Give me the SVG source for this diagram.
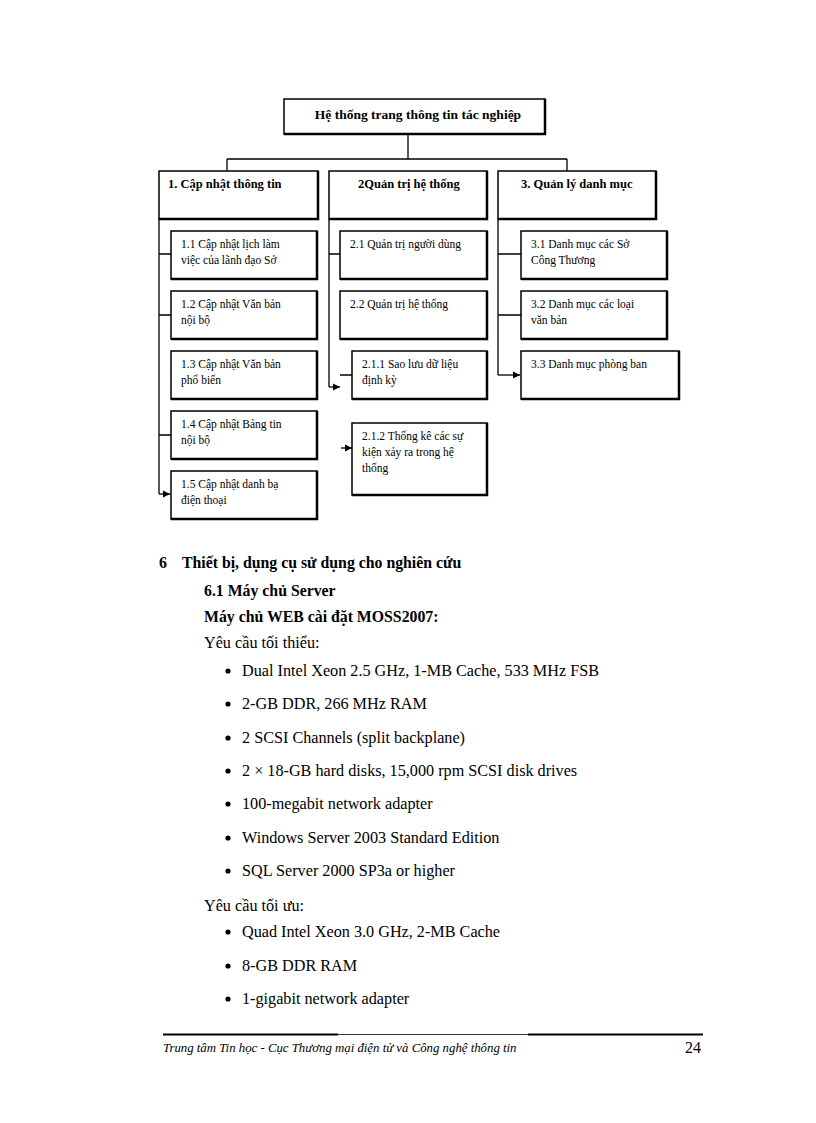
<svg xmlns="http://www.w3.org/2000/svg" width="816" height="1123" viewBox="0 0 816 1123">
<style>
.box{fill:#fff;stroke:#000;stroke-width:1.5}
.sh{fill:none;stroke:#000;stroke-width:2.5}
.ln{fill:none;stroke:#000;stroke-width:1.3}
.t{font-family:"Liberation Serif","Times New Roman",serif;font-size:11.5px;fill:#000}
.tb{font-family:"Liberation Serif","Times New Roman",serif;font-size:12.5px;font-weight:bold;fill:#000}
.body{font-family:"Liberation Serif","Times New Roman",serif;font-size:16.2px;fill:#000}
.bold{font-weight:bold;font-size:15.8px}
</style>
<defs>
<marker id="ah" markerWidth="8" markerHeight="8" refX="7" refY="4" orient="auto" markerUnits="userSpaceOnUse">
<path d="M0,0.5 L7,4 L0,7.5 z" fill="#000"/>
</marker>
</defs>
<rect width="816" height="1123" fill="#fff"/>

<g id="connectors">
<path class="ln" d="M408,135 V159 M227,159 H567 M227,159 V171 M567,159 V171"/>
<path class="ln" d="M159,219 V494 M159,254 H171 M159,315 H171 M159,435 H171"/>
<path class="ln" d="M159,494 H170" marker-end="url(#ah)"/>
<path class="ln" d="M329,219 V387 M329,254 H340 M340,375 H352"/>
<path class="ln" d="M329,387 H340" marker-end="url(#ah)"/>
<path class="ln" d="M341,448 H352" marker-end="url(#ah)"/>
<path class="ln" d="M498,219 V375 M498,254 H521 M498,315 H521"/>
<path class="ln" d="M498,375 H520" marker-end="url(#ah)"/>
</g>

<g id="root">
<rect class="box" x="284" y="99" width="261" height="35"/>
<path class="sh" d="M545,99 V134 H284"/>
<text class="tb" x="418" y="119" text-anchor="middle" style="font-size:13.5px">Hệ thống trang thông tin tác nghiệp</text>
</g>

<g id="n1">
<rect class="box" x="159" y="171" width="159" height="48"/>
<path class="sh" d="M318,171 V219 H159"/>
<text class="tb" x="168" y="188">1. Cập nhật thông tin</text>
</g>
<g id="n2">
<rect class="box" x="329" y="171" width="158" height="48"/>
<path class="sh" d="M487,171 V219 H329"/>
<text class="tb" x="358" y="188">2Quản trị hệ thống</text>
</g>
<g id="n3">
<rect class="box" x="498" y="171" width="158" height="48"/>
<path class="sh" d="M656,171 V219 H498"/>
<text class="tb" x="521" y="188">3. Quản lý danh mục</text>
</g>

<g id="n1_1">
<rect class="box" x="171" y="231" width="146" height="48"/>
<path class="sh" d="M317,231 V279 H171"/>
<text class="t" x="181" y="248">1.1 Cập nhật lịch làm</text>
<text class="t" x="181" y="264">việc của lãnh đạo Sở</text>
</g>
<g id="n1_2">
<rect class="box" x="171" y="291" width="146" height="48"/>
<path class="sh" d="M317,291 V339 H171"/>
<text class="t" x="181" y="308">1.2 Cập nhật Văn bản</text>
<text class="t" x="181" y="324">nội bộ</text>
</g>
<g id="n1_3">
<rect class="box" x="171" y="351" width="146" height="48"/>
<path class="sh" d="M317,351 V399 H171"/>
<text class="t" x="181" y="368">1.3 Cập nhật Văn bản</text>
<text class="t" x="181" y="384">phổ biến</text>
</g>
<g id="n1_4">
<rect class="box" x="171" y="411" width="146" height="48"/>
<path class="sh" d="M317,411 V459 H171"/>
<text class="t" x="181" y="428">1.4 Cập nhật Bảng tin</text>
<text class="t" x="181" y="444">nội bộ</text>
</g>
<g id="n1_5">
<rect class="box" x="171" y="471" width="146" height="48"/>
<path class="sh" d="M317,471 V519 H171"/>
<text class="t" x="181" y="488">1.5 Cập nhật danh bạ</text>
<text class="t" x="181" y="504">điện thoại</text>
</g>

<g id="n2_1">
<rect class="box" x="340" y="231" width="147" height="48"/>
<path class="sh" d="M487,231 V279 H340"/>
<text class="t" x="350" y="248">2.1 Quản trị người dùng</text>
</g>
<g id="n2_2">
<rect class="box" x="340" y="291" width="147" height="48"/>
<path class="sh" d="M487,291 V339 H340"/>
<text class="t" x="350" y="308">2.2 Quản trị hệ thống</text>
</g>
<g id="n2_1_1">
<rect class="box" x="352" y="351" width="135" height="48"/>
<path class="sh" d="M487,351 V399 H352"/>
<text class="t" x="362" y="368">2.1.1 Sao lưu dữ liệu</text>
<text class="t" x="362" y="384">định kỳ</text>
</g>
<g id="n2_1_2">
<rect class="box" x="352" y="423" width="135" height="72"/>
<path class="sh" d="M487,423 V495 H352"/>
<text class="t" x="362" y="440">2.1.2 Thống kê các sự</text>
<text class="t" x="362" y="456">kiện xảy ra trong hệ</text>
<text class="t" x="362" y="472">thống</text>
</g>

<g id="n3_1">
<rect class="box" x="521" y="231" width="146" height="48"/>
<path class="sh" d="M667,231 V279 H521"/>
<text class="t" x="531" y="248">3.1 Danh mục các Sở</text>
<text class="t" x="531" y="264">Công Thương</text>
</g>
<g id="n3_2">
<rect class="box" x="521" y="291" width="146" height="48"/>
<path class="sh" d="M667,291 V339 H521"/>
<text class="t" x="531" y="308">3.2 Danh mục các loại</text>
<text class="t" x="531" y="324">văn bản</text>
</g>
<g id="n3_3">
<rect class="box" x="521" y="351" width="158" height="48"/>
<path class="sh" d="M679,351 V399 H521"/>
<text class="t" x="531" y="368">3.3 Danh mục phòng ban</text>
</g>

<g id="text">
<text class="body bold" x="159" y="568">6</text>
<text class="body bold" x="182" y="568">Thiết bị, dụng cụ sử dụng cho nghiên cứu</text>
<text class="body bold" x="204" y="596">6.1 Máy chủ Server</text>
<text class="body bold" x="204" y="622">Máy chủ WEB cài đặt MOSS2007:</text>
<text class="body" x="204" y="648">Yêu cầu tối thiểu:</text>
<circle cx="228" cy="671" r="2.6"/><text class="body" x="242" y="676">Dual Intel Xeon 2.5 GHz, 1-MB Cache, 533 MHz FSB</text>
<circle cx="228" cy="704" r="2.6"/><text class="body" x="242" y="709">2-GB DDR, 266 MHz RAM</text>
<circle cx="228" cy="738" r="2.6"/><text class="body" x="242" y="743">2 SCSI Channels (split backplane)</text>
<circle cx="228" cy="771" r="2.6"/><text class="body" x="242" y="776">2 × 18-GB hard disks, 15,000 rpm SCSI disk drives</text>
<circle cx="228" cy="804" r="2.6"/><text class="body" x="242" y="809">100-megabit network adapter</text>
<circle cx="228" cy="838" r="2.6"/><text class="body" x="242" y="843">Windows Server 2003 Standard Edition</text>
<circle cx="228" cy="871" r="2.6"/><text class="body" x="242" y="876">SQL Server 2000 SP3a or higher</text>
<text class="body" x="204" y="911">Yêu cầu tối ưu:</text>
<circle cx="228" cy="932" r="2.6"/><text class="body" x="242" y="937">Quad Intel Xeon 3.0 GHz, 2-MB Cache</text>
<circle cx="228" cy="966" r="2.6"/><text class="body" x="242" y="971">8-GB DDR RAM</text>
<circle cx="228" cy="999" r="2.6"/><text class="body" x="242" y="1004">1-gigabit network adapter</text>
</g>

<g id="footer">
<path d="M163,1034.5 H703" stroke="#000" stroke-width="0.8"/>
<path d="M163,1034.5 H338 M528,1034.5 H703" stroke="#000" stroke-width="1.8"/>
<text x="163" y="1052" font-family="'Liberation Serif','Times New Roman',serif" font-size="12.8" font-style="italic">Trung tâm Tin học - Cục Thương mại điện tử và Công nghệ thông tin</text>
<text x="701" y="1053" font-family="'Liberation Serif','Times New Roman',serif" font-size="16" text-anchor="end">24</text>
</g>
</svg>
